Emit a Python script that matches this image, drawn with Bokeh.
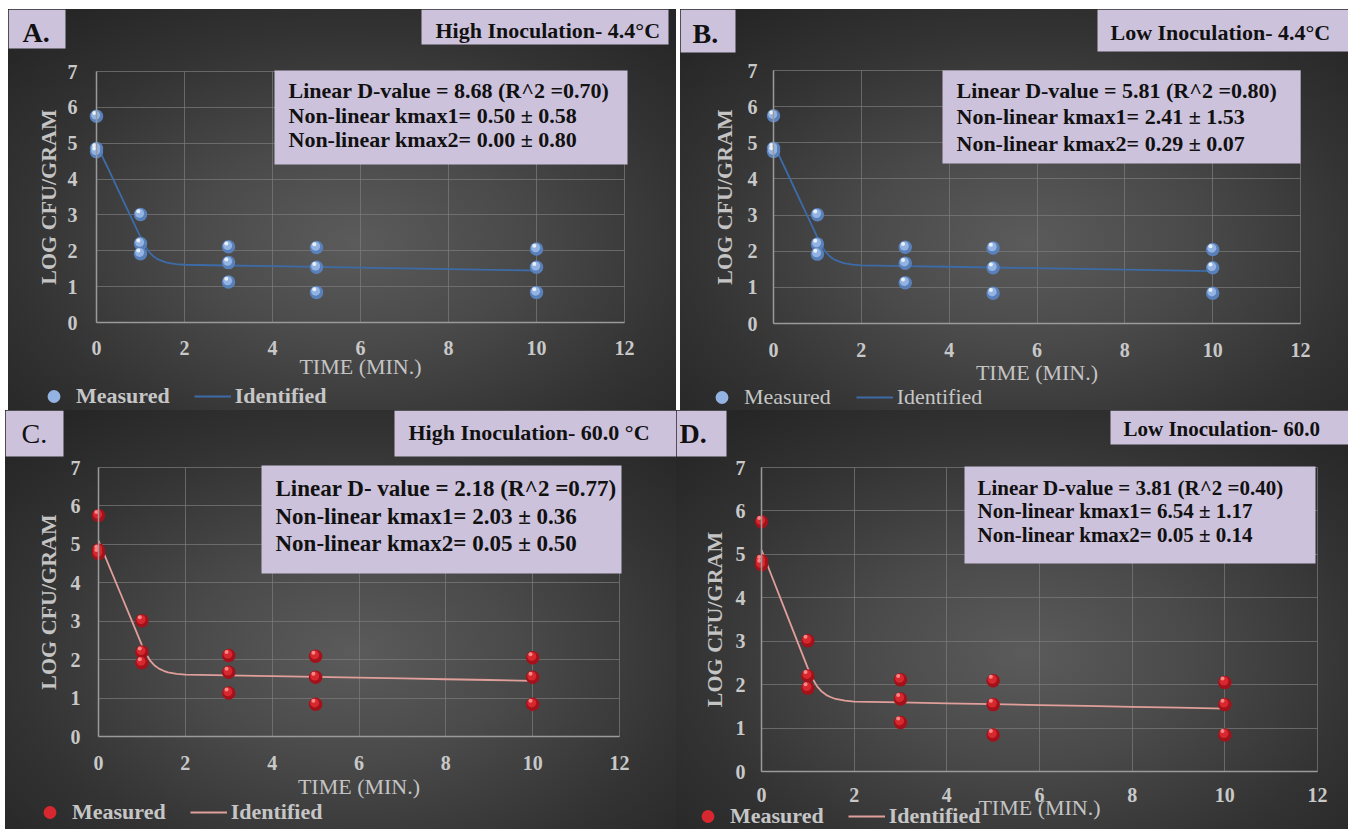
from bokeh.plotting import figure
from bokeh.models import (Range1d, FixedTicker, BoxAnnotation, Label, Legend,
                          LegendItem, ColumnDataSource, Spacer)
from bokeh.layouts import row, column
from bokeh.transform import dodge
from bokeh.embed import file_html
from bokeh.resources import INLINE

# ---------------- data ----------------
time_min = [0, 0, 0, 1, 1, 1, 3, 3, 3, 5, 5, 5, 10, 10, 10]
log_cfu = [5.75, 4.85, 4.76, 3.01, 2.20, 1.92, 2.11, 1.67, 1.13,
           2.09, 1.54, 0.84, 2.05, 1.54, 0.84]

ident_t = [0, 0.25, 0.5, 0.75, 1.0, 1.1, 1.2, 1.3, 1.4, 1.5, 1.6, 1.8,
           2.0, 3, 4, 5, 6, 7, 8, 9, 10]
ident_blue = [4.97, 4.33, 3.68, 3.03, 2.38, 2.14, 1.96, 1.84, 1.76, 1.71,
              1.67, 1.63, 1.61, 1.59, 1.57, 1.55, 1.53, 1.51, 1.49, 1.47, 1.45]
ident_red = [5.10, 4.42, 3.74, 3.06, 2.38, 2.14, 1.96, 1.84, 1.76, 1.71,
             1.67, 1.63, 1.61, 1.59, 1.57, 1.55, 1.53, 1.51, 1.49, 1.47, 1.45]

x_ticks = [0, 2, 4, 6, 8, 10, 12]
y_ticks = [0, 1, 2, 3, 4, 5, 6, 7]

panel_tags = ["A.", "B.", "C.", "D."]
panel_titles = ["High Inoculation- 4.4\u00b0C", "Low Inoculation- 4.4\u00b0C",
                "High Inoculation- 60.0 \u00b0C", "Low Inoculation- 60.0"]
stats_text = [
    ["Linear D-value = 8.68 (R^2 =0.70)", "Non-linear kmax1= 0.50 \u00b1 0.58",
     "Non-linear kmax2= 0.00 \u00b1 0.80"],
    ["Linear D-value = 5.81 (R^2 =0.80)", "Non-linear kmax1= 2.41 \u00b1 1.53",
     "Non-linear kmax2= 0.29 \u00b1 0.07"],
    ["Linear D- value = 2.18 (R^2 =0.77)", "Non-linear kmax1= 2.03 \u00b1 0.36",
     "Non-linear kmax2= 0.05 \u00b1 0.50"],
    ["Linear D-value = 3.81 (R^2 =0.40)", "Non-linear kmax1= 6.54 \u00b1 1.17",
     "Non-linear kmax2= 0.05 \u00b1 0.14"],
]
x_label = "TIME (MIN.)"
y_label = "LOG CFU/GRAM"
legend_labels = ["Measured", "Identified"]

# ---------------- styling ----------------
FONT = "Liberation Serif"
LAV = "#cdc2dc"
AXIS_TXT = "#c8c8c8"
BG = ("radial-gradient(ellipse 70% 72% at 52% 58%, #5b5b5b 0%, #4a4a4a 35%, "
      "#333333 72%, #262626 100%)")

blue = dict(line="#3d6ba7", base="#5a80ba", mid="#93b4e3", hi="#f2f6fc")
red = dict(line="#e09f9b", base="#a3121a", mid="#d6282e", hi="#ff9090")

# frame = (left, top, right, bottom) in figure pixels
panels = [
    dict(W=668, H=401, frame=(88, 62, 616, 313), col=blue, ident=ident_blue,
         tag_box=(0, 0, 57, 39), tag=(14, 23, "bold"),
         title_box=(413, 0, 660, 35), title=(427, 21, 22),
         stats_box=(266, 61, 619, 155), stats_x=280, stats_y=[81, 106, 130], stats_size=22,
         leg_x=27, leg_y=387, leg_style="bold", leg_spacing=24,
         xts=18, xls=-4, yts=19, yls=4),
    dict(W=668, H=401, frame=(93, 61, 620, 314), col=blue, ident=ident_blue,
         tag_box=(0, 0, 55, 43), tag=(12, 24, "bold"),
         title_box=(417, 0, 668, 42), title=(430, 23, 22),
         stats_box=(262, 61, 620, 154), stats_x=276, stats_y=[81, 107, 134], stats_size=22,
         leg_x=23, leg_y=388, leg_style="normal", leg_spacing=25,
         xts=19, xls=0, yts=16, yls=8),
    dict(W=671, H=419, frame=(93, 57, 614, 326), col=red, ident=ident_red,
         tag_box=(0, 0, 58, 46), tag=(16, 23, "normal"),
         title_box=(389, 0, 671, 46), title=(403, 22, 22),
         stats_box=(256, 55, 616, 163), stats_x=270, stats_y=[78, 106, 133], stats_size=23,
         leg_x=26, leg_y=402, leg_style="bold", leg_spacing=24,
         xts=19, xls=1, yts=18, yls=7),
    dict(W=672, H=419, frame=(85, 57, 641, 361), col=red, ident=ident_red,
         tag_box=(0, 0, 50, 46), tag=(3, 23, "bold"),
         title_box=(434, 0, 672, 34), title=(447, 18, 21),
         stats_box=(288, 56, 639, 153), stats_x=301, stats_y=[77, 100, 124], stats_size=21,
         leg_x=13, leg_y=406, leg_style="bold", leg_spacing=24,
         xts=16, xls=-10, yts=16, yls=6),
]

X_MAX = x_ticks[-1]
Y_MAX = y_ticks[-1]
LEG_GLYPH_H = 32  # legend markers are drawn at 0.4 * glyph size


def make_panel(i, c):
    W, H = c["W"], c["H"]
    fl, ft, fr, fb = c["frame"]
    sx = X_MAX / (fr - fl)
    sy = Y_MAX / (fb - ft)
    # the plotting frame covers the whole figure; 0..12 / 0..7 land on the reference frame
    x_range = Range1d(-fl * sx, X_MAX + (W - fr) * sx)
    y_range = Range1d(-(H - fb) * sy, Y_MAX + ft * sy)
    p = figure(width=W, height=H, output_backend="svg", toolbar_location=None,
               x_range=x_range, y_range=y_range, min_border=0,
               min_border_left=0, min_border_right=0, min_border_top=0,
               min_border_bottom=0, styles={"background": BG})
    p.border_fill_color = None
    p.background_fill_color = None
    p.outline_line_color = None

    # axes pinned at x=0 / y=0
    p.xaxis.fixed_location = 0
    p.yaxis.fixed_location = 0
    p.xaxis.bounds = (0, X_MAX)
    p.yaxis.bounds = (0, Y_MAX)
    p.xaxis.ticker = FixedTicker(ticks=x_ticks)
    p.yaxis.ticker = FixedTicker(ticks=y_ticks)
    for ax in (p.xaxis[0], p.yaxis[0]):
        ax.axis_line_color = "#9a9a9a"
        ax.axis_line_width = 1.5
        ax.major_tick_line_color = None
        ax.minor_tick_line_color = None
        ax.major_tick_out = 0
        ax.major_tick_in = 0
        ax.major_label_text_font = FONT
        ax.major_label_text_font_style = "bold"
        ax.major_label_text_font_size = "20px"
        ax.major_label_text_color = AXIS_TXT
        ax.axis_label_text_font = FONT
        ax.axis_label_text_font_size = "22px"
        ax.axis_label_text_color = "#c4c4c4"
    p.xaxis.axis_label = x_label
    p.xaxis.axis_label_text_font_style = "normal"
    p.yaxis.axis_label = y_label
    p.yaxis.axis_label_text_font_style = "bold"
    p.xaxis.major_label_standoff = c["xts"]
    p.xaxis.axis_label_standoff = c["xls"]
    p.yaxis.major_label_standoff = c["yts"]
    p.yaxis.axis_label_standoff = c["yls"]

    p.xgrid.ticker = FixedTicker(ticks=x_ticks)
    p.ygrid.ticker = FixedTicker(ticks=y_ticks)
    p.xgrid.bounds = (0, X_MAX)
    p.xgrid.cross_bounds = (0, Y_MAX)
    p.ygrid.bounds = (0, Y_MAX)
    p.ygrid.cross_bounds = (0, X_MAX)
    for g in (p.xgrid[0], p.ygrid[0]):
        g.grid_line_color = "#7c7c7c"
        g.grid_line_alpha = 0.7
        g.grid_line_width = 1

    # data
    col = c["col"]
    src = ColumnDataSource(dict(t=time_min, v=log_cfu))
    lsrc = ColumnDataSource(dict(t=ident_t, v=c["ident"]))
    r_line = p.line("t", "v", source=lsrc, line_color=col["line"], line_width=1.8)
    r1 = p.scatter("t", "v", source=src, size=13.5, fill_color=col["base"],
                   line_color=None)
    r2 = p.scatter(dodge("t", -0.02), dodge("v", 0.035), source=src, size=9,
                   fill_color=col["mid"], line_color=None)
    r3 = p.scatter(dodge("t", -0.05), dodge("v", 0.09), source=src, size=4,
                   fill_color=col["hi"], fill_alpha=0.9, line_color=None)

    # lavender boxes and texts (screen units: from the figure's bottom-left)
    def box(b):
        x0, y0, x1, y1 = b
        p.add_layout(BoxAnnotation(left=x0, right=x1, top=H - y0, bottom=H - y1,
                                   left_units="screen", right_units="screen",
                                   top_units="screen", bottom_units="screen",
                                   fill_color=LAV, fill_alpha=1.0, line_color=None))

    def text(x, yc, s, size, style):
        p.add_layout(Label(x=x, y=H - yc, x_units="screen", y_units="screen",
                           text=s, text_font=FONT, text_font_size=f"{size}px",
                           text_font_style=style, text_color="#111111",
                           text_baseline="middle", text_align="left"))

    box(c["tag_box"])
    tx, ty, tst = c["tag"]
    text(tx, ty, panel_tags[i], 28, tst)
    box(c["title_box"])
    hx, hy, hs = c["title"]
    text(hx, hy, panel_titles[i], hs, "bold")
    box(c["stats_box"])
    for line_txt, yy in zip(stats_text[i], c["stats_y"]):
        text(c["stats_x"], yy, line_txt, c["stats_size"], "bold")

    legend = Legend(items=[LegendItem(label=legend_labels[0], renderers=[r2]),
                           LegendItem(label=legend_labels[1], renderers=[r_line])],
                    orientation="horizontal",
                    location=(c["leg_x"], H - c["leg_y"] - LEG_GLYPH_H // 2),
                    glyph_width=37, glyph_height=LEG_GLYPH_H, label_height=20,
                    label_standoff=4, spacing=c["leg_spacing"], padding=0, margin=0,
                    background_fill_alpha=0, border_line_color=None,
                    label_text_font=FONT, label_text_font_size="22px",
                    label_text_font_style=c["leg_style"], label_text_color="#c6c6c6")
    p.add_layout(legend, "center")
    return p


figs = [make_panel(i, c) for i, c in enumerate(panels)]
layout = column(Spacer(width=1348, height=9),
                row(Spacer(width=8, height=401), figs[0], Spacer(width=4, height=401), figs[1]),
                row(Spacer(width=5, height=419), figs[2], figs[3]))

with open("out.html", "w") as f:
    f.write(file_html(layout, INLINE))
